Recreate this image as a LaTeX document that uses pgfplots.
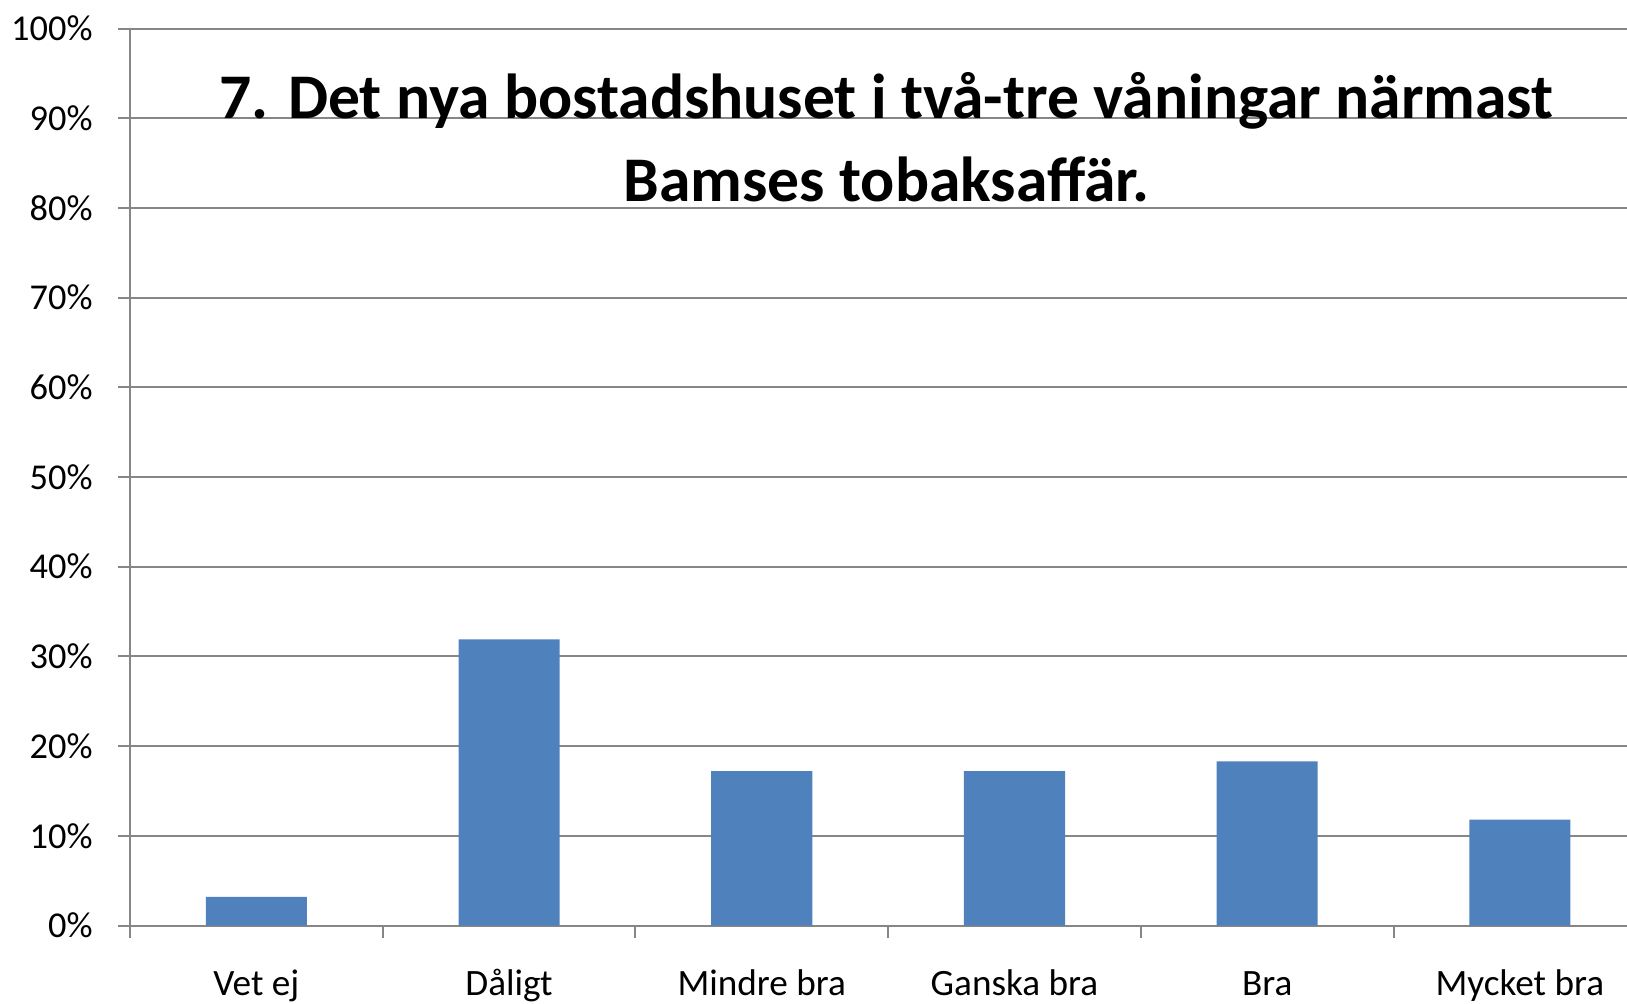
\documentclass[border=0pt]{standalone}
\usepackage{pgfplots}
\pgfplotsset{compat=1.18}
\usepackage{fontspec}
\setmainfont{Carlito}
\definecolor{barblue}{HTML}{4F81BD}
\definecolor{gridgray}{HTML}{868686}
\begin{document}
\begin{tikzpicture}
\useasboundingbox (0,0) rectangle (813.5pt,-501.5pt);
\begin{axis}[
  at={(65pt,-462.75pt)}, anchor=south west,
  scale only axis, width=748.5pt, height=448.5pt,
  xmin=-0.5, xmax=5.424, ymin=0, ymax=100,
  axis x line=bottom, axis y line=left,
  axis line style={draw=gridgray, line width=1pt, -},
  ymajorgrids, grid style={draw=gridgray, line width=1pt},
  tick align=outside, major tick length=6pt,
  tick style={draw=gridgray, line width=1pt},
  ytick={0,10,...,100},
  yticklabels={0\%,10\%,20\%,30\%,40\%,50\%,60\%,70\%,80\%,90\%,100\%},
  xtick={-0.5,0.5,...,4.5}, xticklabels={},
  extra x ticks={0,1,2,3,4,5},
  extra x tick labels={Vet ej,Dåligt,Mindre bra,Ganska bra,Bra,Mycket bra},
  extra x tick style={tick style={draw=none}, grid=none},
  yticklabel style={font=\fontsize{18.2}{22}\selectfont, text=black, anchor=east, inner sep=0pt, xshift=-12.5pt},
  xticklabel style={font=\fontsize{18.6}{22}\selectfont, text=black, anchor=base, inner sep=0pt, yshift=-28.75pt},
  ybar, bar width=0.4,
]
\addplot[fill=barblue, draw=none] coordinates {(0,3.2) (1,31.9) (2,17.2) (3,17.2) (4,18.3) (5,11.8)};
\end{axis}
\node[anchor=base, font=\fontsize{31.8}{38}\selectfont\bfseries] at (443.25pt,-59pt) {7. Det nya bostadshuset i två-tre våningar närmast};
\node[anchor=base, font=\fontsize{31.8}{38}\selectfont\bfseries] at (443.25pt,-100.5pt) {Bamses tobaksaffär.};
\end{tikzpicture}
\end{document}
